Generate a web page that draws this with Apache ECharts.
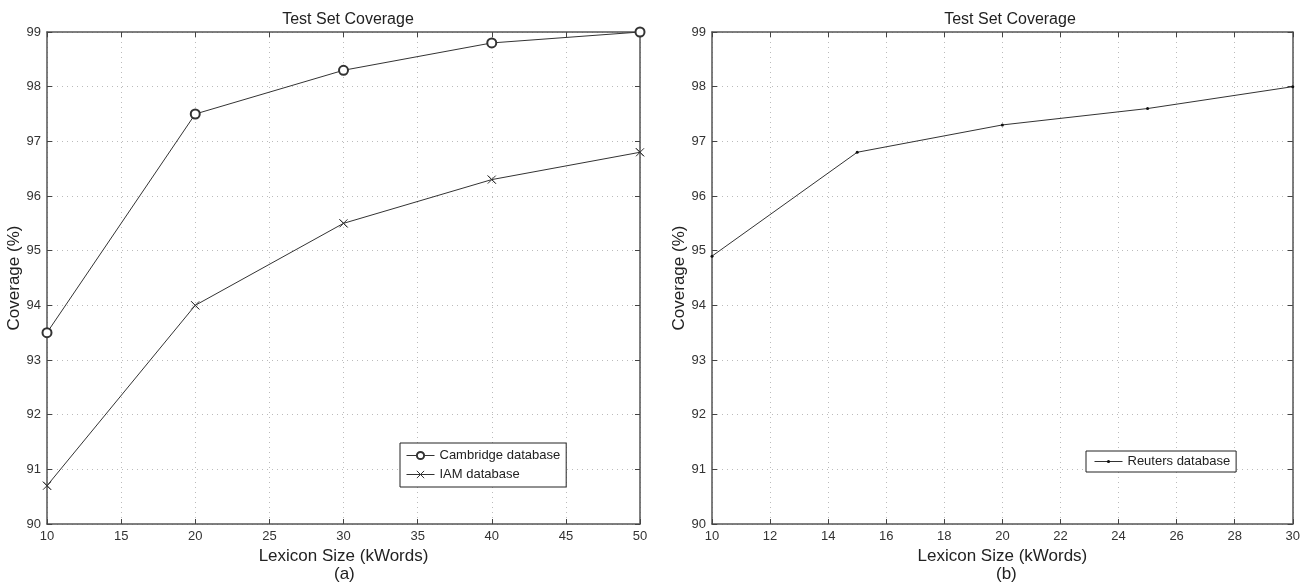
<!DOCTYPE html>
<html>
<head>
<meta charset="utf-8">
<script src="https://cdn.jsdelivr.net/npm/echarts@6/dist/echarts.min.js"></script>
<style>
  html, body { margin: 0; padding: 0; background: #fff; }
  #chart { width: 1303px; height: 586px; }
</style>
</head>
<body>
<div id="chart"></div>
<script>
// panel (a)
const lexiconA = [10, 20, 30, 40, 50]
const cambridge = [93.5, 97.5, 98.3, 98.8, 99.0]
const iam = [90.7, 94.0, 95.5, 96.3, 96.8]
// panel (b)
const lexiconB = [10, 15, 20, 25, 30]
const reuters = [94.9, 96.8, 97.3, 97.6, 98.0]

const font = 'Liberation Sans, Arial, sans-serif'
const ink = '#333'

const pairs = (xs, ys) => xs.map((x, i) => [x, ys[i]])

const baseX = (grid, min, max, step) => ({
  type: 'value', gridIndex: grid, min: min, max: max, interval: step,
  name: 'Lexicon Size (kWords)', nameLocation: 'middle', nameGap: 20,
  nameTextStyle: {fontFamily: font, fontSize: 17, color: '#222'},
  axisLine: {lineStyle: {color: '#555', width: 1.5}},
  axisTick: {inside: true, length: 5, lineStyle: {color: '#444'}},
  axisLabel: {fontFamily: font, fontSize: 13, color: '#333', margin: 6},
  splitLine: {show: true, lineStyle: {color: '#bbb', type: [1, 4]}}
})
const topX = (grid, min, max, step) => ({
  type: 'value', gridIndex: grid, position: 'top', min: min, max: max, interval: step,
  axisLine: {show: true, onZero: false, lineStyle: {color: '#555', width: 1.5}},
  axisTick: {inside: true, length: 5, lineStyle: {color: '#444'}},
  axisLabel: {show: false}, splitLine: {show: false}
})
const baseY = (grid) => ({
  type: 'value', gridIndex: grid, min: 90, max: 99, interval: 1,
  name: 'Coverage (%)', nameLocation: 'middle', nameGap: 18,
  nameTextStyle: {fontFamily: font, fontSize: 17, color: '#222'},
  axisLine: {show: true, lineStyle: {color: '#555', width: 1.5}},
  axisTick: {show: true, inside: true, length: 5, lineStyle: {color: '#444'}},
  axisLabel: {fontFamily: font, fontSize: 13, color: '#333', margin: 6},
  splitLine: {show: true, lineStyle: {color: '#bbb', type: [1, 4]}}
})
const rightY = (grid) => ({
  type: 'value', gridIndex: grid, position: 'right', min: 90, max: 99, interval: 1,
  axisLine: {show: true, onZero: false, lineStyle: {color: '#555', width: 1.5}},
  axisTick: {show: true, inside: true, length: 5, lineStyle: {color: '#444'}},
  axisLabel: {show: false}, splitLine: {show: false}
})

let chart = echarts.init(document.getElementById('chart'))
let option = {
  backgroundColor: '#fff',
  animation: false,
  title: [
    {text: 'Test Set Coverage', left: 343, top: 7, textAlign: 'center',
      textStyle: {fontFamily: font, fontSize: 16, fontWeight: 'normal', color: '#222'}},
    {text: 'Test Set Coverage', left: 1005, top: 7, textAlign: 'center',
      textStyle: {fontFamily: font, fontSize: 16, fontWeight: 'normal', color: '#222'}}
  ],
  graphic: [
    {type: 'text', left: 334, top: 566, style: {text: '(a)', fontFamily: font, fontSize: 17, fill: '#222'}},
    {type: 'text', left: 996, top: 566, style: {text: '(b)', fontFamily: font, fontSize: 17, fill: '#222'}}
  ],
  grid: [
    {left: 47, right: 663, top: 32, bottom: 62},
    {left: 712, right: 6, top: 32, bottom: 62}
  ],
  xAxis: [baseX(0, 10, 50, 5), topX(0, 10, 50, 5), baseX(1, 10, 30, 2), topX(1, 10, 30, 2)],
  yAxis: [baseY(0), rightY(0), baseY(1), rightY(1)],
  legend: [
    {
      data: ['Cambridge database', 'IAM database'], orient: 'vertical',
      left: 400, top: 443, itemGap: 6, itemWidth: 28, itemHeight: 9, padding: [6, 6, 6, 6],
      borderColor: '#222', borderWidth: 1, backgroundColor: '#fff',
      itemStyle: {borderWidth: 1}, lineStyle: {width: 1},
      textStyle: {fontFamily: font, fontSize: 13, color: '#222'}
    },
    {
      data: ['Reuters database'], orient: 'vertical',
      left: 1086, top: 451, itemWidth: 28, itemHeight: 4, padding: [4, 6, 4, 8],
      borderColor: '#222', borderWidth: 1, backgroundColor: '#fff',
      lineStyle: {width: 1},
      textStyle: {fontFamily: font, fontSize: 13, color: '#222'}
    }
  ],
  series: [
    {
      name: 'Cambridge database', type: 'line', xAxisIndex: 0, yAxisIndex: 0,
      data: pairs(lexiconA, cambridge), symbol: 'emptyCircle', symbolSize: 9,
      lineStyle: {color: ink, width: 1}, itemStyle: {color: ink, borderColor: ink, borderWidth: 1}
    },
    {
      name: 'IAM database', type: 'line', xAxisIndex: 0, yAxisIndex: 0,
      data: pairs(lexiconA, iam), symbol: 'path://M0,0L10,10M10,0L0,10M0,0L10,10', symbolSize: 8,
      lineStyle: {color: ink, width: 1}, itemStyle: {color: 'none', borderColor: ink, borderWidth: 1}
    },
    {
      name: 'Reuters database', type: 'line', xAxisIndex: 2, yAxisIndex: 2,
      data: pairs(lexiconB, reuters), symbol: 'circle', symbolSize: 3,
      lineStyle: {color: ink, width: 1}, itemStyle: {color: '#111'}
    }
  ]
}
chart.setOption(option)
</script>
</body>
</html>
